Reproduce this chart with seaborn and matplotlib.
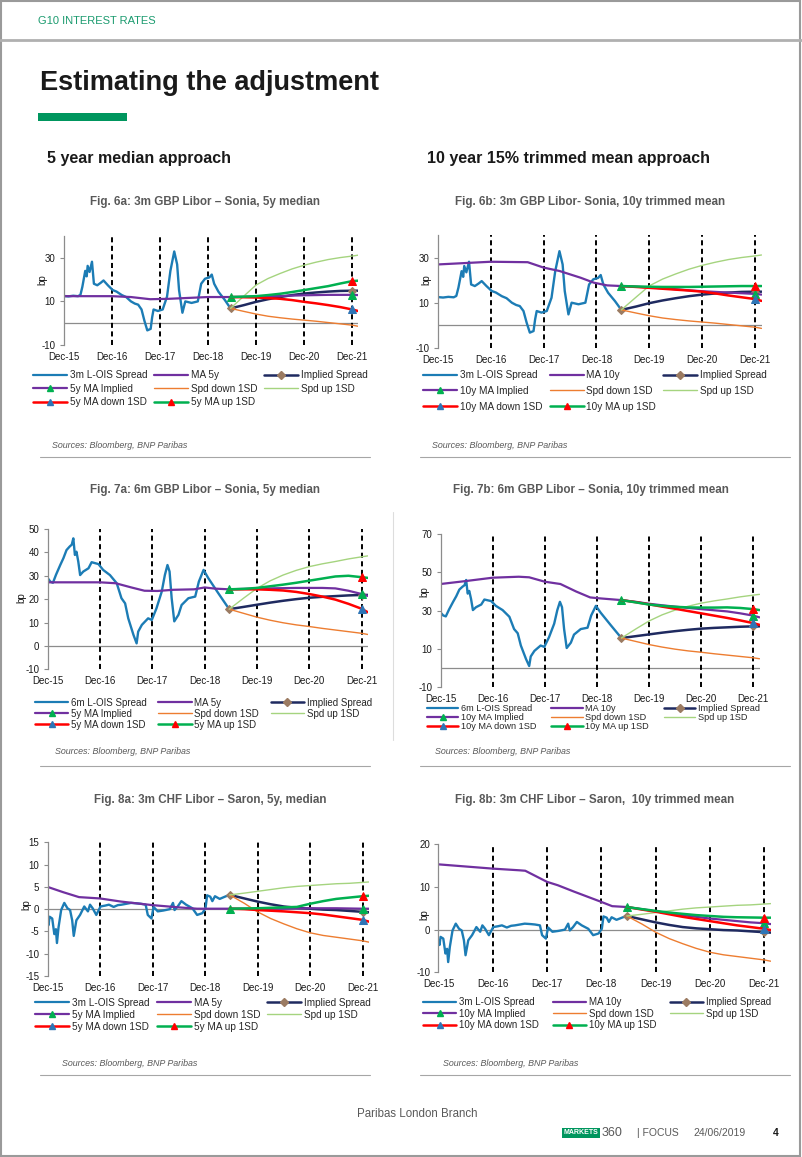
import matplotlib
matplotlib.use('Agg')
import matplotlib.pyplot as plt
import seaborn as sns
from matplotlib import font_manager
from matplotlib.lines import Line2D
from matplotlib.patches import Rectangle

# ---- data (x = years after Dec-15) ----
year_labels = ['Dec-15', 'Dec-16', 'Dec-17', 'Dec-18', 'Dec-19', 'Dec-20', 'Dec-21']
proj_t = [3.47, 3.75, 4.0, 4.25, 4.5, 4.75, 5.0, 5.25, 5.5, 5.75, 6.0, 6.12]

# 3m GBP Libor - Sonia spread
gbp3_t = [0.00, 0.10, 0.20, 0.30, 0.35, 0.39, 0.45, 0.48, 0.50, 0.54, 0.59, 0.63, 0.70, 0.77, 0.83, 0.92,
          1.02, 1.10, 1.21, 1.30, 1.40, 1.48, 1.55, 1.62, 1.68, 1.74, 1.81, 1.84, 1.87, 1.96, 2.06, 2.15,
          2.22, 2.30, 2.36, 2.40, 2.47, 2.53, 2.66, 2.79, 2.86, 2.94, 3.03, 3.08, 3.13, 3.22, 3.35, 3.47]
gbp3 = [12.5, 12.3, 12.6, 12.4, 13.0, 16.7, 24.0, 21.5, 26.3, 23.5, 28.2, 18.1, 17.4, 18.5, 19.6, 17.4,
        15.2, 14.5, 12.9, 12.0, 10.0, 9.0, 8.5, 6.3, 1.1, -3.3, -2.6, 2.6, 6.3, 5.6, 6.3, 12.2,
        24.0, 32.9, 27.0, 15.2, 4.8, 10.0, 9.3, 10.0, 18.1, 20.4, 21.0, 22.3, 18.1, 14.4, 10.7, 6.8]
gbp3_impl = [6.8, 8.3, 9.8, 11.0, 12.0, 12.9, 13.6, 14.1, 14.5, 14.8, 14.9, 14.9]
gbp3_dn = [6.8, 5.4, 4.2, 3.2, 2.5, 1.9, 1.4, 0.9, 0.3, -0.3, -0.9, -1.4]
gbp3_up = [6.8, 12.5, 17.5, 20.5, 22.8, 24.9, 26.6, 28.0, 29.2, 30.1, 30.8, 31.2]

ma5_gbp3_t = [0, 1.0, 1.4, 1.8, 2.2, 2.6, 3.0, 3.47]
ma5_gbp3 = [12.4, 12.4, 12.0, 11.0, 11.2, 11.6, 12.0, 12.0]
ma5_gbp3_impl = [12.0, 12.1, 12.2, 12.35, 12.5, 12.65, 12.8, 12.9, 13.0, 13.0, 13.0, 12.9]
ma5_gbp3_dn = [12.0, 11.9, 11.8, 11.5, 11.2, 10.6, 9.8, 9.1, 8.3, 7.4, 6.3, 5.6]
ma5_gbp3_up = [12.0, 12.2, 12.4, 12.9, 13.5, 14.3, 15.2, 16.1, 17.0, 18.2, 19.3, 19.5]

ma10_gbp3_t = [0, 0.5, 1.0, 1.7, 2.0, 2.3, 2.7, 2.95, 3.2, 3.47]
ma10_gbp3 = [27.0, 27.6, 28.2, 28.0, 25.6, 24.1, 21.1, 18.9, 17.7, 17.4]
ma10_gbp3_impl = [17.4, 17.1, 16.8, 16.4, 16.0, 15.5, 15.1, 14.8, 14.5, 14.2, 13.9, 13.6]
ma10_gbp3_dn = [17.4, 17.0, 16.6, 16.2, 15.8, 15.4, 14.9, 14.1, 13.2, 12.4, 11.6, 10.8]
ma10_gbp3_up = [17.4, 17.2, 17.1, 17.0, 17.0, 17.0, 17.1, 17.2, 17.3, 17.4, 17.4, 17.4]

# 6m GBP Libor - Sonia spread
gbp6_t = [0.00, 0.05, 0.10, 0.16, 0.24, 0.30, 0.36, 0.42, 0.46, 0.49, 0.52, 0.55, 0.585, 0.62, 0.68, 0.78,
          0.84, 0.97, 1.06, 1.19, 1.32, 1.41, 1.48, 1.54, 1.64, 1.70, 1.73, 1.80, 1.92, 1.99, 2.08, 2.18,
          2.24, 2.29, 2.33, 2.37, 2.42, 2.50, 2.56, 2.69, 2.82, 2.89, 2.98, 3.07, 3.26, 3.47]
gbp6 = [29.0, 27.5, 27.0, 30.5, 34.6, 37.5, 41.0, 42.5, 43.3, 46.0, 38.9, 40.3, 36.0, 30.3, 31.8, 33.2,
        35.8, 35.0, 32.5, 30.3, 26.8, 20.4, 18.2, 11.8, 4.7, 1.1, 6.1, 9.0, 11.8, 11.1, 16.1, 23.2,
        30.3, 34.6, 31.8, 20.4, 10.5, 13.3, 17.5, 20.4, 21.1, 27.5, 32.5, 29.0, 22.6, 15.7]
gbp6_impl = [15.7, 16.7, 17.6, 18.5, 19.3, 20.0, 20.6, 21.0, 21.3, 21.6, 21.8, 21.8]
gbp6_dn = [15.7, 13.9, 12.3, 11.0, 9.9, 9.0, 8.3, 7.5, 6.8, 6.1, 5.4, 4.9]
gbp6_up = [15.7, 20.5, 24.6, 27.8, 30.3, 32.3, 33.9, 35.1, 36.1, 37.2, 38.1, 38.5]

ma5_gbp6_t = [0, 1.0, 1.3, 1.6, 1.85, 2.1, 2.4, 2.8, 3.0, 3.2, 3.47]
ma5_gbp6 = [27.2, 27.2, 26.8, 25.0, 23.6, 23.5, 24.0, 24.2, 25.0, 24.5, 24.2]
ma5_gbp6_impl = [24.2, 24.4, 24.5, 24.6, 24.7, 24.8, 24.8, 24.8, 24.6, 23.6, 22.2, 21.4]
ma5_gbp6_dn = [24.2, 24.2, 24.2, 24.0, 23.7, 23.1, 22.2, 21.1, 19.8, 18.0, 15.9, 14.4]
ma5_gbp6_up = [24.2, 24.4, 24.8, 25.5, 26.2, 27.0, 27.9, 28.8, 29.7, 30.0, 29.4, 29.1]

ma10_gbp6_t = [0, 0.5, 1.0, 1.5, 1.7, 2.0, 2.3, 2.6, 2.87, 3.06, 3.47]
ma10_gbp6 = [43.9, 45.5, 47.2, 47.7, 47.4, 45.1, 43.9, 40.0, 36.9, 36.4, 35.5]
ma10_gbp6_impl = [35.5, 34.6, 33.6, 32.8, 32.1, 31.4, 30.8, 30.2, 29.6, 28.6, 27.4, 26.5]
ma10_gbp6_dn = [35.5, 34.4, 33.3, 32.1, 31.0, 29.8, 28.6, 27.4, 26.2, 24.9, 23.5, 22.6]
ma10_gbp6_up = [35.5, 34.3, 33.2, 32.5, 32.0, 31.7, 31.6, 31.6, 31.7, 31.4, 30.8, 30.3]

# 3m CHF Libor - Saron spread
chf_t = [0.00, 0.02, 0.04, 0.09, 0.13, 0.16, 0.18, 0.21, 0.26, 0.32, 0.38, 0.43, 0.47, 0.50, 0.55, 0.62,
         0.70, 0.77, 0.81, 0.86, 0.93, 1.01, 1.10, 1.17, 1.26, 1.34, 1.41, 1.50, 1.59, 1.70, 1.78, 1.87,
         1.91, 1.98, 2.02, 2.10, 2.21, 2.33, 2.39, 2.42, 2.48, 2.55, 2.64, 2.76, 2.85, 2.95, 3.01, 3.04,
         3.10, 3.14, 3.19, 3.28, 3.40, 3.47]
chf = [-2.5, -3.6, -1.7, -2.1, -5.6, -4.5, -7.6, -4.1, -0.2, 1.4, 0.2, -0.2, -2.5, -6.0, -2.5, -1.3,
       0.6, -0.5, 1.0, 0.2, -1.3, 0.6, 0.8, 1.0, 0.5, 0.9, 1.0, 1.2, 1.4, 1.3, 1.2, 1.0,
       -1.3, -2.1, 0.5, -0.5, -0.3, 0.0, 1.4, -0.2, 0.6, 1.8, 1.0, 0.2, -1.3, -0.9, 0.2, 3.1,
       2.8, 1.8, 2.9, 2.3, 2.9, 3.2]
chf_impl = [3.2, 2.4, 1.7, 1.1, 0.6, 0.3, 0.1, -0.1, -0.2, -0.4, -0.6, -0.7]
chf_dn = [3.2, 1.3, -0.6, -2.1, -3.3, -4.4, -5.3, -5.9, -6.3, -6.7, -7.1, -7.4]
chf_up = [3.2, 3.6, 4.0, 4.4, 4.8, 5.1, 5.3, 5.5, 5.7, 5.8, 6.0, 6.1]

ma5_chf_t = [0, 0.3, 0.6, 1.0, 1.4, 1.7, 2.0, 2.5, 2.85, 3.2, 3.47]
ma5_chf = [5.0, 3.8, 2.7, 2.4, 1.7, 1.3, 0.9, 0.4, 0.1, 0.1, 0.1]
ma5_chf_impl = [0.1, 0.1, 0.1, 0.1, 0.1, 0.15, 0.2, 0.2, 0.2, 0.15, 0.1, 0.1]
ma5_chf_dn = [0.1, 0.0, -0.2, -0.35, -0.5, -0.7, -0.9, -1.2, -1.6, -2.0, -2.4, -2.8]
ma5_chf_up = [0.1, 0.15, 0.2, 0.3, 0.4, 0.5, 1.2, 1.8, 2.3, 2.6, 2.9, 3.0]

ma10_chf_t = [0, 0.5, 1.0, 1.5, 1.6, 2.0, 2.2, 2.5, 3.0, 3.2, 3.47]
ma10_chf = [15.3, 14.8, 14.3, 13.9, 13.8, 11.2, 10.4, 8.9, 6.5, 5.5, 5.3]
ma10_chf_impl = [5.3, 4.8, 4.3, 3.8, 3.4, 3.0, 2.6, 2.3, 2.0, 1.7, 1.5, 1.3]
ma10_chf_dn = [5.3, 4.7, 4.2, 3.6, 3.0, 2.5, 2.0, 1.5, 1.0, 0.6, 0.2, -0.1]
ma10_chf_up = [5.3, 4.8, 4.4, 4.0, 3.7, 3.4, 3.2, 3.0, 2.9, 2.85, 2.8, 2.8]

titles = {
    '6a': 'Fig. 6a: 3m GBP Libor \u2013 Sonia, 5y median',
    '6b': 'Fig. 6b: 3m GBP Libor- Sonia, 10y trimmed mean',
    '7a': 'Fig. 7a: 6m GBP Libor \u2013 Sonia, 5y median',
    '7b': 'Fig. 7b: 6m GBP Libor \u2013 Sonia, 10y trimmed mean',
    '8a': 'Fig. 8a: 3m CHF Libor \u2013 Saron, 5y, median',
    '8b': 'Fig. 8b: 3m CHF Libor \u2013 Saron,  10y trimmed mean',
}


def legend_labels(tenor, win):
    return [f'{tenor} L-OIS Spread', f'MA {win}', 'Implied Spread', f'{win} MA Implied',
            'Spd down 1SD', 'Spd up 1SD', f'{win} MA down 1SD', f'{win} MA up 1SD']


panels = {
    '6a': dict(hist=(gbp3_t, gbp3), ma=(ma5_gbp3_t, ma5_gbp3), proj=(gbp3_impl, gbp3_dn, gbp3_up),
               maproj=(ma5_gbp3_impl, ma5_gbp3_dn, ma5_gbp3_up), labels=legend_labels('3m', '5y')),
    '6b': dict(hist=(gbp3_t, gbp3), ma=(ma10_gbp3_t, ma10_gbp3), proj=(gbp3_impl, gbp3_dn, gbp3_up),
               maproj=(ma10_gbp3_impl, ma10_gbp3_dn, ma10_gbp3_up), labels=legend_labels('3m', '10y')),
    '7a': dict(hist=(gbp6_t, gbp6), ma=(ma5_gbp6_t, ma5_gbp6), proj=(gbp6_impl, gbp6_dn, gbp6_up),
               maproj=(ma5_gbp6_impl, ma5_gbp6_dn, ma5_gbp6_up), labels=legend_labels('6m', '5y')),
    '7b': dict(hist=(gbp6_t, gbp6), ma=(ma10_gbp6_t, ma10_gbp6), proj=(gbp6_impl, gbp6_dn, gbp6_up),
               maproj=(ma10_gbp6_impl, ma10_gbp6_dn, ma10_gbp6_up), labels=legend_labels('6m', '10y')),
    '8a': dict(hist=(chf_t, chf), ma=(ma5_chf_t, ma5_chf), proj=(chf_impl, chf_dn, chf_up),
               maproj=(ma5_chf_impl, ma5_chf_dn, ma5_chf_up), labels=legend_labels('3m', '5y')),
    '8b': dict(hist=(chf_t, chf), ma=(ma10_chf_t, ma10_chf), proj=(chf_impl, chf_dn, chf_up),
               maproj=(ma10_chf_impl, ma10_chf_dn, ma10_chf_up), labels=legend_labels('3m', '10y')),
}

# ---- layout (pixels on the 802x1157 page) ----
layout = {
    '6a': dict(box=(63.6, 358.0, 236.0, 345.0), ylim=(-10, 40), yticks=[-10, 10, 30], bp=(43, 280),
               leg=(33, 368, 376, 15.0, 7.2), title=(205, 201.5), src=(52, 445)),
    '6b': dict(box=(437.8, 761.5, 235.2, 347.7), ylim=(-10, 40), yticks=[-10, 10, 30], bp=(427, 280),
               leg=(423, 767, 376, 17.3, 7.2), title=(590, 201.5), src=(432, 445)),
    '7a': dict(box=(47.7, 367.8, 529.0, 669.3), ylim=(-10, 50), yticks=[-10, 0, 10, 20, 30, 40, 50],
               bp=(22, 598), leg=(35, 372, 703.3, 12.2, 7.0), title=(205, 490), src=(55, 752)),
    '7b': dict(box=(440.6, 759.5, 534.0, 687.3), ylim=(-10, 70), yticks=[-10, 10, 30, 50, 70],
               bp=(425, 592), leg=(427, 760, 709.3, 10.6, 6.6), title=(591, 490), src=(435, 752)),
    '8a': dict(box=(47.5, 368.8, 842.3, 976.0), ylim=(-15, 15), yticks=[-15, -10, -5, 0, 5, 10, 15],
               bp=(27, 905), leg=(35, 371, 1003.3, 13.7, 7.2), title=(210, 800), src=(62, 1063)),
    '8b': dict(box=(438.4, 770.7, 844.3, 972.3), ylim=(-10, 20), yticks=[-10, 0, 10, 20],
               bp=(425, 915), leg=(423, 771, 1002.7, 12.8, 7.0), title=(595, 800), src=(443, 1063)),
}

C_SPREAD = '#1c7cb5'
C_MA = '#7030a0'
C_IMPL = '#1f2a60'
C_DOWN = '#ed7d31'
C_UP = '#a5d47f'
C_MADN = '#ff0000'
C_MAUP = '#00b050'
M_IMPL = '#9b7b62'
M_BLUE = '#2e75b6'
GREY = '#595959'

W, H = 802, 1157

sns.set_theme(style='white')
plt.rcParams['font.family'] = ['Liberation Sans', 'DejaVu Sans']
plt.rcParams['axes.unicode_minus'] = False

installed = {f.name for f in font_manager.fontManager.ttflist}
narrow = 'Liberation Sans Narrow' if 'Liberation Sans Narrow' in installed else 'Liberation Sans'

fig = plt.figure(figsize=(W / 100, H / 100), dpi=100)


def fx(px):
    return px / W


def fy(py):
    return 1 - py / H


def draw_panel(key):
    d, lay = panels[key], layout[key]
    L, R, T, B = lay['box']
    ax = fig.add_axes([fx(L), fy(B), (R - L) / W, (B - T) / H])

    imp, dn, up = d['proj']
    ma_imp, ma_dn, ma_up = d['maproj']
    dec21 = proj_t.index(6.0)

    ax.axhline(0, color='#8c8c8c', lw=0.9, zorder=1)
    for t in range(1, 7):
        ax.axvline(t, color='black', lw=1.4, ls=(0, (2.6, 1.8)), zorder=1)

    sns.lineplot(x=d['hist'][0], y=d['hist'][1], ax=ax, color=C_SPREAD, lw=1.7, legend=False)
    sns.lineplot(x=d['ma'][0], y=d['ma'][1], ax=ax, color=C_MA, lw=1.6, legend=False)
    sns.lineplot(x=proj_t, y=imp, ax=ax, color=C_IMPL, lw=1.8, marker='D', ms=4.5,
                 markevery=[0, dec21], mfc=M_IMPL, mec=M_IMPL, legend=False)
    sns.lineplot(x=proj_t, y=ma_imp, ax=ax, color=C_MA, lw=1.6, marker='^', ms=6,
                 markevery=[0, dec21], mfc=C_MAUP, mec=C_MAUP, legend=False)
    sns.lineplot(x=proj_t, y=dn, ax=ax, color=C_DOWN, lw=1.0, legend=False)
    sns.lineplot(x=proj_t, y=up, ax=ax, color=C_UP, lw=1.0, legend=False)
    sns.lineplot(x=proj_t, y=ma_dn, ax=ax, color=C_MADN, lw=1.8, marker='^', ms=6,
                 markevery=[dec21], mfc=M_BLUE, mec=M_BLUE, legend=False)
    sns.lineplot(x=proj_t, y=ma_up, ax=ax, color=C_MAUP, lw=1.8, marker='^', ms=6,
                 markevery=[dec21], mfc=C_MADN, mec=C_MADN, legend=False)

    ax.set_xlim(0, 6.12)
    ax.set_ylim(*lay['ylim'])
    ax.set_yticks(lay['yticks'])
    ax.set_xticks(range(7))
    ax.set_xticklabels(year_labels)
    ax.grid(False)
    for s in ['top', 'right', 'bottom']:
        ax.spines[s].set_visible(False)
    ax.spines['left'].set_color('#8c8c8c')
    ax.spines['left'].set_linewidth(0.9)
    ax.tick_params(axis='y', left=True, length=3, width=0.8, color='#8c8c8c', pad=3,
                   labelsize=7, labelcolor='#1a1a1a')
    ax.tick_params(axis='x', bottom=False, length=0, pad=5, labelsize=7, labelcolor='#1a1a1a')
    ax.set_xlabel('')
    ax.set_ylabel('bp', fontsize=7, color='#1a1a1a')
    bx, by = lay['bp']
    ax.yaxis.set_label_coords((bx + 4.5 - L) / (R - L), (B - by) / (B - T))

    # legend, 3 columns filled column by column
    def h(color, lw, marker=None, mcol=None, ms=5):
        return Line2D([], [], color=color, lw=lw, marker=marker, markersize=ms,
                      markerfacecolor=mcol, markeredgecolor=mcol)

    handles = [h(C_SPREAD, 1.6), h(C_MA, 1.6), h(C_IMPL, 1.8, 'D', M_IMPL, 4),
               h(C_MA, 1.6, '^', C_MAUP, 5), h(C_DOWN, 1.0), h(C_UP, 1.0),
               h(C_MADN, 1.8, '^', M_BLUE, 5), h(C_MAUP, 1.8, '^', C_MADN, 5)]
    order = [0, 3, 6, 1, 4, 7, 2, 5]
    x0, x1, yc, gap, fs = lay['leg']
    fs_px = fs * 100 / 72
    top = yc - 0.58 * fs_px
    ax.legend([handles[i] for i in order], [d['labels'][i] for i in order], ncol=3,
              loc='upper left', bbox_to_anchor=(fx(x0), fy(top), fx(x1) - fx(x0), 0),
              bbox_transform=fig.transFigure, mode='expand', frameon=False, fontsize=fs,
              borderpad=0, borderaxespad=0, handlelength=3.4, handletextpad=0.3,
              labelspacing=max((gap - 1.15 * fs_px) / fs_px, 0.0), columnspacing=0.5)

    cx, cy = lay['title']
    fig.text(fx(cx), fy(cy), titles[key], ha='center', va='center', fontsize=8.4,
             fontweight='bold', color=GREY)
    sx, sy = lay['src']
    fig.text(fx(sx), fy(sy), 'Sources: Bloomberg, BNP Paribas', ha='left', va='center',
             fontsize=6.4, style='italic', color=GREY)


for k in panels:
    draw_panel(k)

# ---- page furniture ----
fig.add_artist(Rectangle((0.001, 0.001), 0.997, 0.998, transform=fig.transFigure, fill=False,
                         ec='#9a9a9a', lw=1.5))
fig.add_artist(Line2D([0, 1], [fy(40), fy(40)], color='#b0b0b0', lw=2))
fig.text(fx(38), fy(21), 'G10 INTEREST RATES', ha='left', va='center', fontsize=8,
         color='#1b9b6f', family=narrow)
title_fs = 23.5 if narrow != 'Liberation Sans' else 19.5
fig.text(fx(40), fy(83), 'Estimating the adjustment', ha='left', va='center', fontsize=title_fs,
         fontweight='bold', color='#1a1a1a', family=narrow)
fig.add_artist(Rectangle((fx(38), fy(121)), (127 - 38) / W, 8 / H, transform=fig.transFigure,
                         color='#00965e', lw=0))
fig.text(fx(47), fy(158), '5 year median approach', ha='left', va='center', fontsize=11.5,
         fontweight='bold', color='#1a1a1a')
fig.text(fx(427), fy(158), '10 year 15% trimmed mean approach', ha='left', va='center',
         fontsize=11.5, fontweight='bold', color='#1a1a1a')

for yline in [457, 766, 1075]:
    fig.add_artist(Line2D([fx(40), fx(370)], [fy(yline)] * 2, color='#a6a6a6', lw=0.8))
    fig.add_artist(Line2D([fx(420), fx(790)], [fy(yline)] * 2, color='#a6a6a6', lw=0.8))
fig.add_artist(Line2D([fx(393), fx(393)], [fy(512), fy(740)], color='#dddddd', lw=0.8))

fig.text(fx(357), fy(1114), 'Paribas London Branch', ha='left', va='center', fontsize=8.3, color=GREY)
fig.text(fx(564), fy(1133), 'MARKETS', ha='left', va='center', fontsize=5, fontweight='bold',
         color='white', family=narrow,
         bbox=dict(boxstyle='square,pad=0.25', fc='#00965e', ec='none'))
fig.text(fx(602), fy(1133), '360', ha='left', va='center', fontsize=9, color=GREY)
fig.text(fx(637), fy(1133), '| FOCUS', ha='left', va='center', fontsize=7.5, color=GREY)
fig.text(fx(693), fy(1133), '24/06/2019', ha='left', va='center', fontsize=7.5, color=GREY)
fig.text(fx(773), fy(1133), '4', ha='left', va='center', fontsize=7.5, fontweight='bold',
         color='#1a1a1a')

fig.savefig('out.png', dpi=100)
